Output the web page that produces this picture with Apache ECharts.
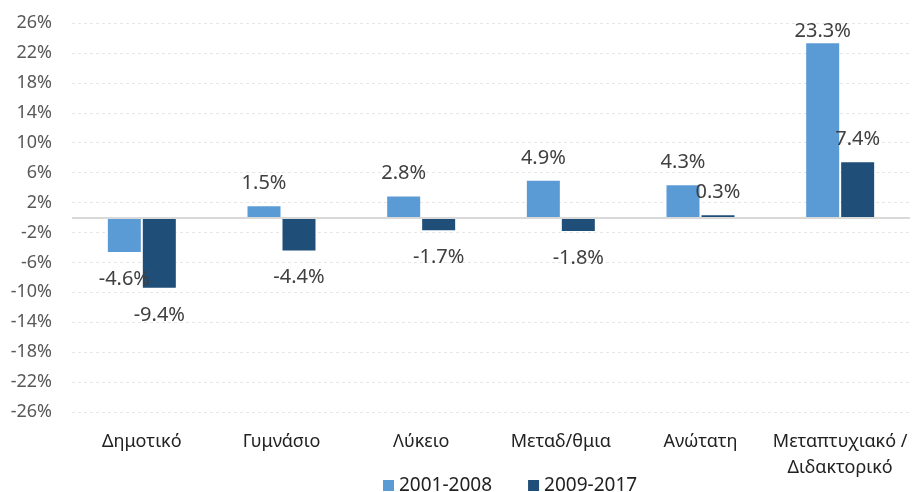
<!DOCTYPE html>
<html>
<head>
<meta charset="utf-8">
<script src="https://cdn.jsdelivr.net/npm/echarts@6/dist/echarts.min.js"></script>
<style>
  html,body{margin:0;padding:0;background:#fff;}
  #main{width:912px;height:492px;}
</style>
</head>
<body>
<div id="main"></div>
<script>
// κατηγορίες εκπαίδευσης
const categories = ['Δημοτικό', 'Γυμνάσιο', 'Λύκειο', 'Μεταδ/θμια', 'Ανώτατη', 'Μεταπτυχιακό /\nΔιδακτορικό'];
const seriesNames = ['2001-2008', '2009-2017'];
const values2001 = [-4.6, 1.5, 2.8, 4.9, 4.3, 23.3];
const values2009 = [-9.4, -4.4, -1.7, -1.8, 0.3, 7.4];
// άξονας y: -26% ... 26% ανά 4
const tickLabels = ['-26%', '-22%', '-18%', '-14%', '-10%', '-6%', '-2%', '2%', '6%', '10%', '14%', '18%', '22%', '26%'];

const colors = ['#5B9BD5', '#1F4E79'];
const font = '"Noto Sans", "Open Sans", sans-serif';

let chart = echarts.init(document.getElementById('main'));

function labelOpt() {
  return {
    show: true,
    position: 'top',
    distance: 13,
    fontFamily: font,
    fontSize: 20,
    color: '#404040',
    formatter: p => p.value.toFixed(1) + '%'
  };
}

function makeData(arr) {
  // οι αρνητικές τιμές έχουν την ετικέτα από κάτω
  return arr.map(v => {
    if (v < 0) return { value: v, label: { position: 'bottom', distance: 17 } };
    // η ψηλή μπάρα: ετικέτα πιο κοντά (όπως στο πρωτότυπο)
    if (v > 20) return { value: v, label: { distance: 2 } };
    return { value: v };
  });
}

let option = {
  animation: false,
  color: colors,
  grid: { left: 72, right: 2, top: 23, bottom: 80, containLabel: false },
  legend: {
    data: seriesNames,
    left: 378,
    top: 471,
    itemWidth: 11,
    itemHeight: 11,
    itemGap: 36,
    icon: 'rect',
    textStyle: { fontFamily: font, fontSize: 19, color: '#222', padding: [0, 0, 0, 0] }
  },
  xAxis: {
    type: 'category',
    data: categories,
    axisLine: { show: false },
    axisTick: { show: false },
    axisLabel: {
      margin: 17,
      fontFamily: font,
      fontSize: 18,
      lineHeight: 26,
      color: '#222',
      interval: 0
    }
  },
  yAxis: [
    {
      // άξονας δεδομένων
      type: 'value',
      min: -26,
      max: 26,
      axisLine: { show: false },
      axisTick: { show: false },
      axisLabel: { show: false },
      splitLine: { show: false }
    },
    {
      // άξονας μόνο για τις ετικέτες και τις γραμμές πλέγματος
      type: 'value',
      position: 'left',
      min: 0,
      max: (tickLabels.length - 1) * 4,
      interval: 4,
      axisLine: { show: false },
      axisTick: { show: false },
      axisLabel: {
        margin: 20,
        fontFamily: font,
        fontSize: 18,
        color: '#595959',
        formatter: v => tickLabels[Math.round(v / 4)]
      },
      splitLine: { show: true, lineStyle: { color: '#e6e6e6', type: [3, 3], width: 1 } }
    }
  ],
  series: [
    {
      name: seriesNames[0],
      type: 'bar',
      yAxisIndex: 0,
      data: makeData(values2001),
      barWidth: 33,
      barGap: '6%',
      label: labelOpt(),
      markLine: {
        silent: true,
        symbol: 'none',
        label: { show: false },
        lineStyle: { color: '#d9d9d9', type: 'solid', width: 2 },
        data: [{ yAxis: 0 }]
      }
    },
    {
      name: seriesNames[1],
      type: 'bar',
      yAxisIndex: 0,
      data: makeData(values2009),
      barWidth: 33,
      barGap: '6%',
      label: labelOpt()
    }
  ]
};

chart.setOption(option);
</script>
</body>
</html>
